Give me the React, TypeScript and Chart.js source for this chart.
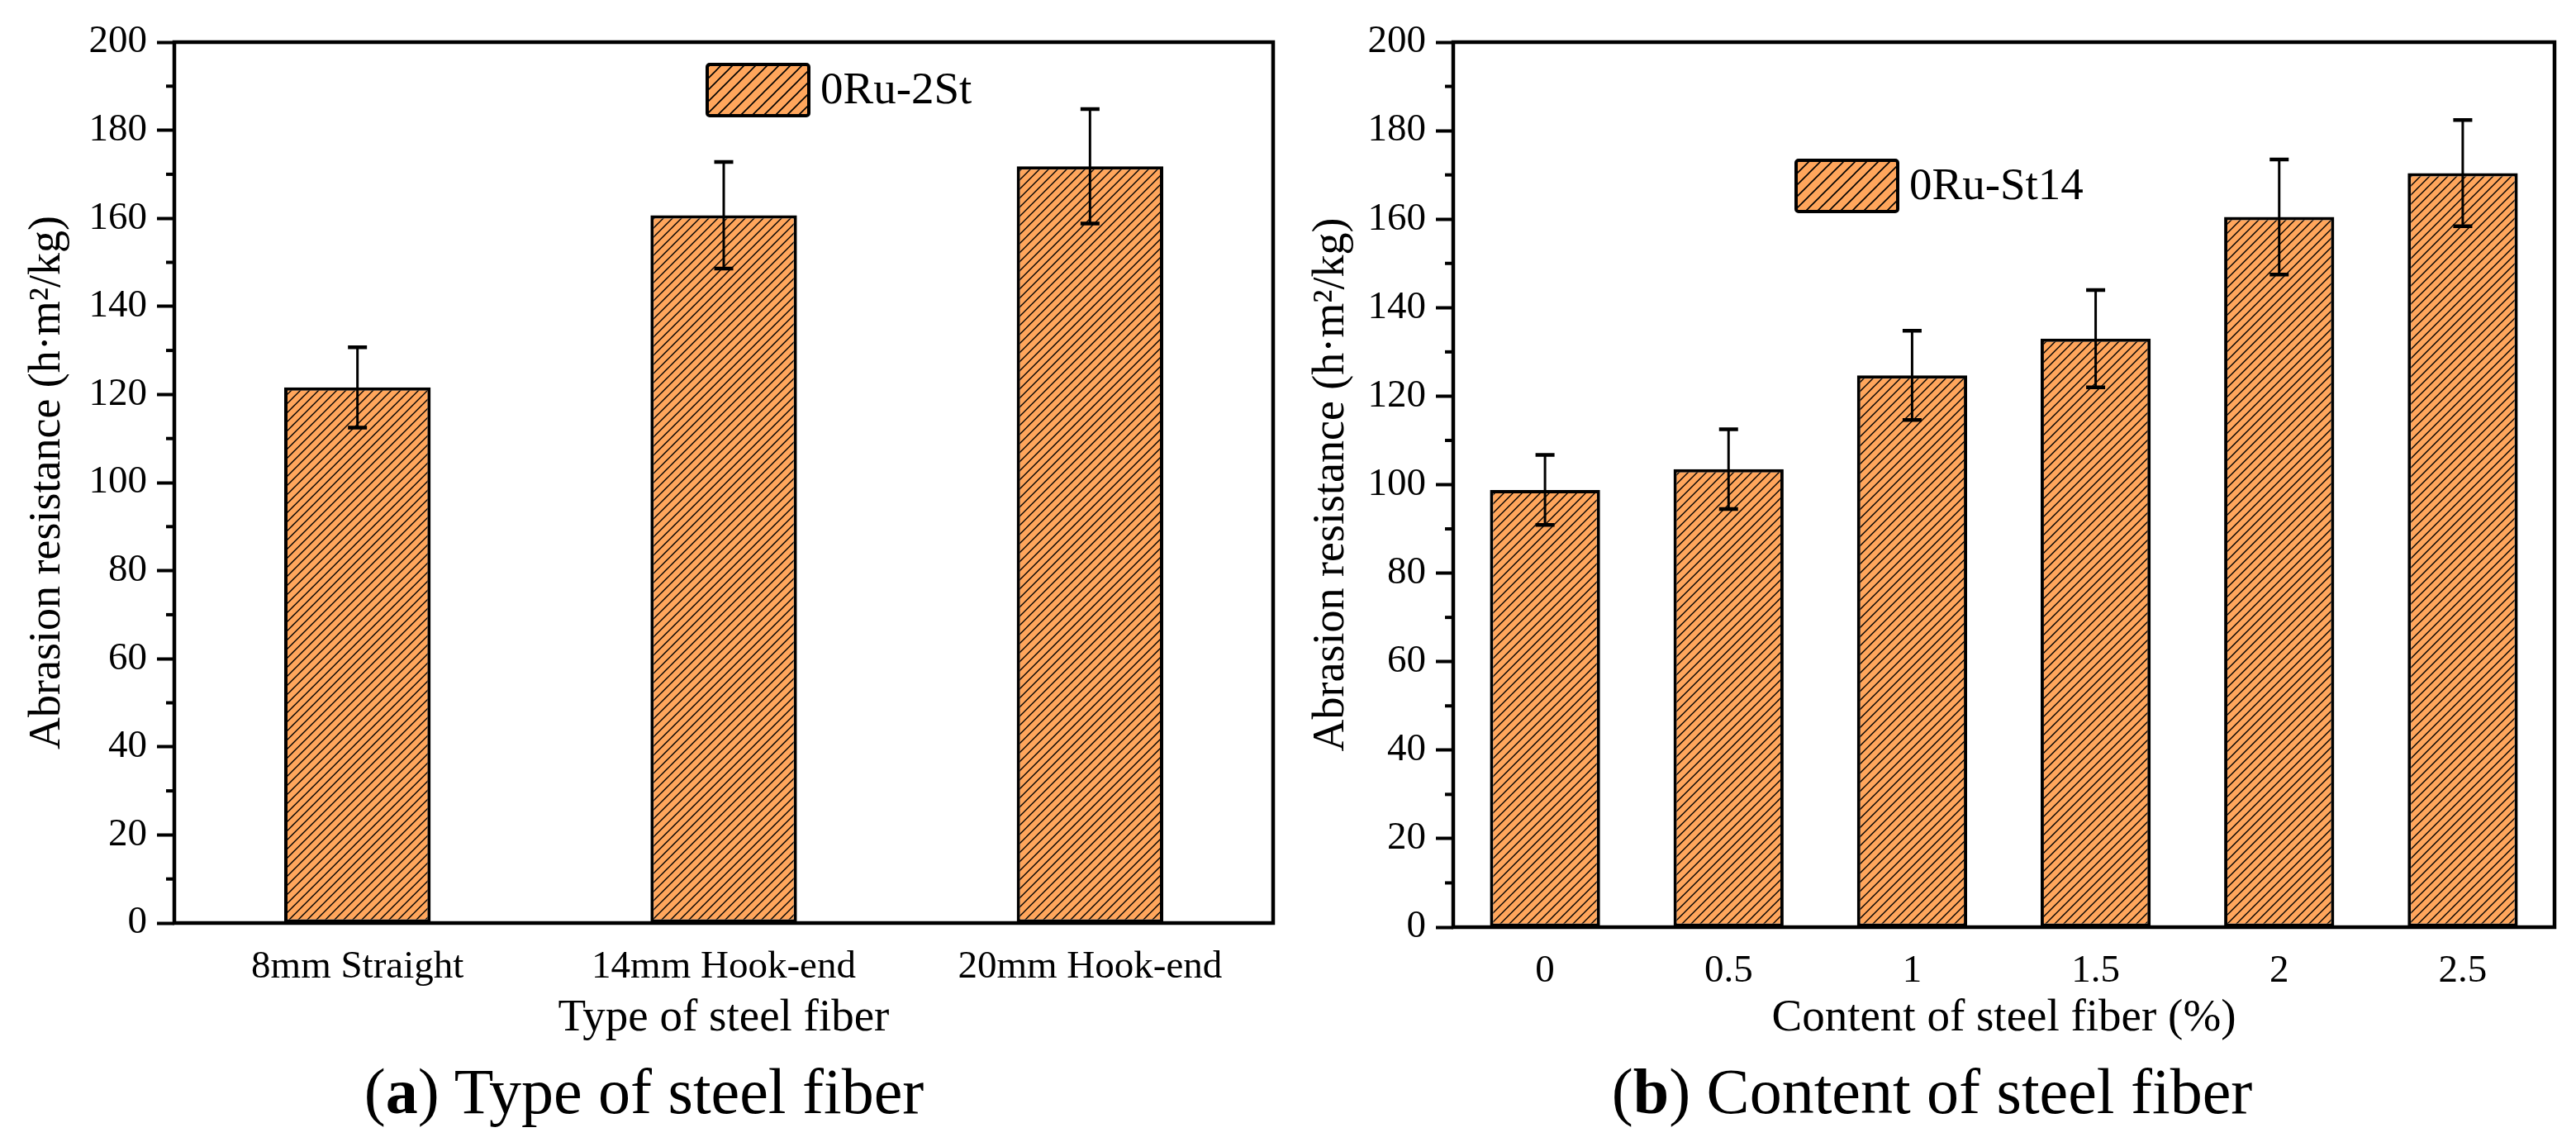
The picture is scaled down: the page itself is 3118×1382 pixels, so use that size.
import { useEffect, useRef } from 'react';
import { Chart, registerables } from 'chart.js';

Chart.register(...registerables);

// (a) type of steel fiber
const typeLabels = ['8mm Straight', '14mm Hook-end', '20mm Hook-end'];
const typeValues = [121.6, 160.7, 171.8];
const typeErrors = [9.1, 12.1, 13.0];

// (b) content of steel fiber
const contentLabels = ['0', '0.5', '1', '1.5', '2', '2.5'];
const contentValues = [98.8, 103.5, 124.7, 133.0, 160.5, 170.4];
const contentErrors = [7.9, 9.0, 10.1, 11.0, 13.0, 12.0];

const yMin = 0;
const yMax = 200;
const yStep = 20;

const FONT = "'Liberation Serif', 'Times New Roman', serif";
const ORANGE = '#FFA65C';

function hatch(size: number, width: number) {
  const c = document.createElement('canvas');
  c.width = size;
  c.height = size;
  const g = c.getContext('2d')!;
  g.fillStyle = ORANGE;
  g.fillRect(0, 0, size, size);
  g.strokeStyle = '#000';
  g.lineWidth = width;
  g.beginPath();
  g.moveTo(-size, size); g.lineTo(size, -size);
  g.moveTo(0, size); g.lineTo(size, 0);
  g.moveTo(0, 2 * size); g.lineTo(2 * size, 0);
  g.stroke();
  return g.createPattern(c, 'repeat')!;
}

const frame = {
  id: 'frame',
  afterDatasetsDraw(chart: any) {
    const { ctx, chartArea: a } = chart;
    const y = chart.scales.y;
    ctx.save();
    ctx.strokeStyle = '#000';
    // minor ticks halfway between the major ones
    ctx.lineWidth = 4;
    const t = y.ticks;
    for (let i = 0; i < t.length - 1; i++) {
      const py = y.getPixelForValue((t[i].value + t[i + 1].value) / 2);
      ctx.beginPath();
      ctx.moveTo(a.left - 10, py);
      ctx.lineTo(a.left, py);
      ctx.stroke();
    }
    ctx.lineWidth = 4.5;
    ctx.lineJoin = 'miter';
    ctx.strokeRect(a.left, a.top, a.right - a.left, a.bottom - a.top);
    ctx.restore();
  },
};

const errorBars = {
  id: 'errorBars',
  afterDatasetsDraw(chart: any) {
    const { ctx } = chart;
    const y = chart.scales.y;
    chart.data.datasets.forEach((ds: any, di: number) => {
      const meta = chart.getDatasetMeta(di);
      meta.data.forEach((bar: any, i: number) => {
        const v = ds.data[i];
        const e = ds.errors[i];
        const top = y.getPixelForValue(v + e);
        const bot = y.getPixelForValue(v - e);
        ctx.save();
        ctx.strokeStyle = '#000';
        ctx.lineWidth = 3;
        ctx.beginPath();
        ctx.moveTo(bar.x, top);
        ctx.lineTo(bar.x, bot);
        ctx.stroke();
        ctx.lineWidth = 4.5;
        ctx.beginPath();
        ctx.moveTo(bar.x - 11.5, top); ctx.lineTo(bar.x + 11.5, top);
        ctx.moveTo(bar.x - 11.5, bot); ctx.lineTo(bar.x + 11.5, bot);
        ctx.stroke();
        ctx.restore();
      });
    });
  },
};

const hatchLegend = {
  id: 'hatchLegend',
  afterDraw(chart: any, _args: any, opts: any) {
    const { ctx, chartArea: a } = chart;
    const x = a.left + opts.dx;
    const y = a.top + opts.dy;
    const w = 123;
    const h = 62;
    ctx.save();
    ctx.fillStyle = hatch(14, 1.6);
    ctx.strokeStyle = '#000';
    ctx.lineWidth = 4;
    ctx.beginPath();
    ctx.roundRect(x, y, w, h, 3);
    ctx.fill();
    ctx.stroke();
    ctx.fillStyle = '#000';
    ctx.font = `55px ${FONT}`;
    ctx.textBaseline = 'middle';
    ctx.textAlign = 'left';
    ctx.fillText(chart.data.datasets[0].label, x + w + 14, y + h / 2 + 2);
    ctx.restore();
  },
};

interface PanelProps {
  left: number;
  labels: string[];
  values: number[];
  errors: number[];
  series: string;
  xTitle: string;
  caption: string;
  barPct: number;
  yWidth: number;
  yTitlePad: number;
  padRight: number;
  xHeight: number;
  legendAt: { dx: number; dy: number };
}

const H = 1285;

function Panel(p: PanelProps) {
  const canvasRef = useRef<HTMLCanvasElement>(null);

  useEffect(() => {
    if (!canvasRef.current) return;
    const ctx = canvasRef.current.getContext('2d');
    if (!ctx) return;

    const chart = new Chart(ctx, {
      type: 'bar',
      data: {
        labels: p.labels,
        datasets: [{
          label: p.series,
          data: p.values,
          errors: p.errors,
          backgroundColor: hatch(11, 1.4),
          borderColor: '#000',
          borderWidth: 4,
          borderSkipped: false,
          barPercentage: p.barPct,
          categoryPercentage: 1,
        } as any],
      },
      options: {
        animation: false,
        responsive: true,
        maintainAspectRatio: false,
        layout: { padding: { top: 51, left: 0, right: p.padRight, bottom: 0 } },
        plugins: {
          legend: { display: false },
          tooltip: { enabled: false },
          hatchLegend: p.legendAt,
        } as any,
        scales: {
          x: {
            grid: { display: false },
            border: { display: false },
            ticks: { color: '#000', font: { family: FONT, size: 47 }, padding: 17, maxRotation: 0, autoSkip: false },
            title: {
              display: true, text: p.xTitle, color: '#000',
              font: { family: FONT, size: 55 }, padding: { top: 0, bottom: 19 },
            },
            afterFit: (s: any) => { s.height = p.xHeight; },
          },
          y: {
            min: yMin,
            max: yMax,
            ticks: { stepSize: yStep, color: '#000', font: { family: FONT, size: 47 }, padding: 12 },
            grid: { drawOnChartArea: false, drawTicks: true, tickLength: 21, tickWidth: 4, tickColor: '#000' },
            border: { display: false },
            title: {
              display: true, text: 'Abrasion resistance (h·m²/kg)', color: '#000',
              font: { family: FONT, size: 54 }, padding: { top: p.yTitlePad, bottom: 0 },
            },
            afterFit: (s: any) => { s.width = p.yWidth; },
          },
        },
      },
      plugins: [frame, errorBars, hatchLegend],
    });

    return () => chart.destroy();
  }, []);

  const [tag, ...rest] = p.caption.split(' ');
  return (
    <>
      <div style={{ position: 'absolute', left: p.left, top: 0, width: 1559, height: H }}>
        <canvas ref={canvasRef} />
      </div>
      <div style={{
        position: 'absolute', left: p.left, top: 1282, width: 1559, textAlign: 'center',
        fontFamily: FONT, fontSize: 78, lineHeight: '78px', color: '#000',
      }}>
        (<b>{tag.replace(/[()]/g, '')}</b>) {rest.join(' ')}
      </div>
    </>
  );
}

export default function App() {
  return (
    <div style={{ position: 'absolute', left: 0, top: 0, width: 3118, height: 1382, background: '#fff', overflow: 'hidden' }}>
      <Panel
        left={0}
        labels={typeLabels}
        values={typeValues}
        errors={typeErrors}
        series="0Ru-2St"
        xTitle="Type of steel fiber"
        caption="(a) Type of steel fiber"
        barPct={0.4}
        yWidth={211}
        yTitlePad={25}
        padRight={18}
        xHeight={H - 1117}
        legendAt={{ dx: 645, dy: 27 }}
      />
      <Panel
        left={1559}
        labels={contentLabels}
        values={contentValues}
        errors={contentErrors}
        series="0Ru-St14"
        xTitle="Content of steel fiber (%)"
        caption="(b) Content of steel fiber"
        barPct={0.6}
        yWidth={200}
        yTitlePad={20}
        padRight={26}
        xHeight={H - 1122}
        legendAt={{ dx: 415, dy: 143 }}
      />
    </div>
  );
}
